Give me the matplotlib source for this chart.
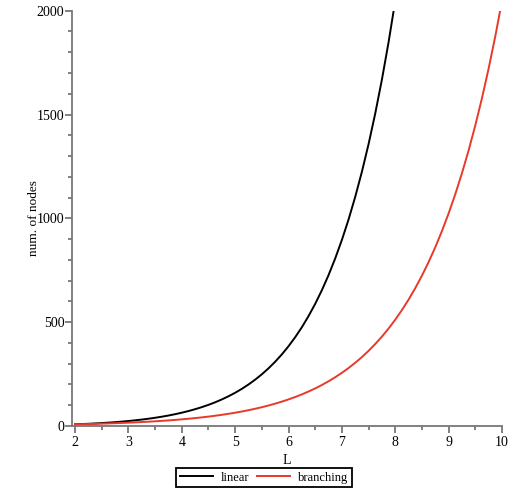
import matplotlib.pyplot as plt
import numpy as np
from matplotlib.ticker import MultipleLocator

L = [2, 2.125, 2.25, 2.375, 2.5, 2.625, 2.75, 2.875,
     3, 3.125, 3.25, 3.375, 3.5, 3.625, 3.75, 3.875,
     4, 4.125, 4.25, 4.375, 4.5, 4.625, 4.75, 4.875,
     5, 5.125, 5.25, 5.375, 5.5, 5.625, 5.75, 5.875,
     6, 6.125, 6.25, 6.375, 6.5, 6.625, 6.75, 6.875,
     7, 7.125, 7.25, 7.375, 7.5, 7.625, 7.75, 7.875,
     8, 8.125, 8.25, 8.375, 8.5, 8.625, 8.75, 8.875,
     9, 9.125, 9.25, 9.375, 9.5, 9.625, 9.75, 9.875, 10]
linear = [8, 9.27, 10.7, 12.32, 14.14, 16.19, 18.5, 21.09,
          24, 27.26, 30.92, 35.01, 39.6, 44.72, 50.45, 56.85,
          64, 71.97, 80.87, 90.78, 101.8, 114.1, 127.8, 143.1,
          160, 178.8, 199.8, 223.1, 248.9, 277.6, 309.4, 344.8,
          384, 427.5, 475.7, 529.1, 588.3, 653.9, 726.5, 807.0,
          896, 994.5, 1103.6, 1224.2, 1357.6, 1505.2, 1668.3, 1848.7, 2048]
branching = [8, 8.72, 9.51, 10.37, 11.31, 12.34, 13.45, 14.67,
             16, 17.45, 19.03, 20.75, 22.63, 24.68, 26.91, 29.34,
             32, 34.9, 38.05, 41.5, 45.25, 49.35, 53.82, 58.69,
             64, 69.79, 76.11, 83.0, 90.51, 98.7, 107.6, 117.4,
             128, 139.6, 152.2, 166.0, 181.0, 197.4, 215.3, 234.8,
             256, 279.2, 304.4, 332.0, 362.0, 394.8, 430.5, 469.5,
             512, 558.3, 608.9, 664.0, 724.1, 789.6, 861.1, 939.0,
             1024, 1116.7, 1217.7, 1327.9, 1448.2, 1579.2, 1722.2, 1878.0, 2048]

plt.rcParams['font.family'] = ['Liberation Serif', 'DejaVu Serif']
plt.rcParams['font.size'] = 10

fig = plt.figure(figsize=(5.2, 4.95), dpi=100)
ax = fig.add_axes([0.1385, 0.1394, 0.8269, 0.8390])

l1, = ax.plot(L[:len(linear)], linear, color='black', lw=1.4, label='linear')
l2, = ax.plot(L, branching, color='#e8392b', lw=1.4, label='branching')

ax.set_xlim(1.944, 10)
ax.set_ylim(0, 2000)
ax.xaxis.set_major_locator(MultipleLocator(1))
ax.xaxis.set_minor_locator(MultipleLocator(0.5))
ax.yaxis.set_major_locator(MultipleLocator(500))
ax.yaxis.set_minor_locator(MultipleLocator(100))

for s in ['top', 'right']:
    ax.spines[s].set_visible(False)
for s in ['left', 'bottom']:
    ax.spines[s].set_color('#777777')
    ax.spines[s].set_linewidth(1.3)
ax.tick_params(which='major', length=5, width=1.3, color='#777777')
ax.tick_params(which='minor', length=3, width=1.3, color='#777777')
ax.tick_params(axis='x', which='major', pad=2)
ax.tick_params(axis='y', which='major', pad=0.5)

ax.set_xlabel('L', labelpad=4)
ax.set_ylabel('num. of nodes', labelpad=-2, fontsize=9.5)

leg = fig.legend(handles=[l1, l2], loc='center', bbox_to_anchor=(0.508, 0.035), ncol=2,
                 fancybox=False, edgecolor='black', framealpha=1, borderpad=0.3,
                 fontsize=9, handlelength=2.6, columnspacing=0.65, handletextpad=0.65,
                 borderaxespad=0)
leg.get_frame().set_linewidth(1.3)

fig.savefig('out.png', dpi=100)
